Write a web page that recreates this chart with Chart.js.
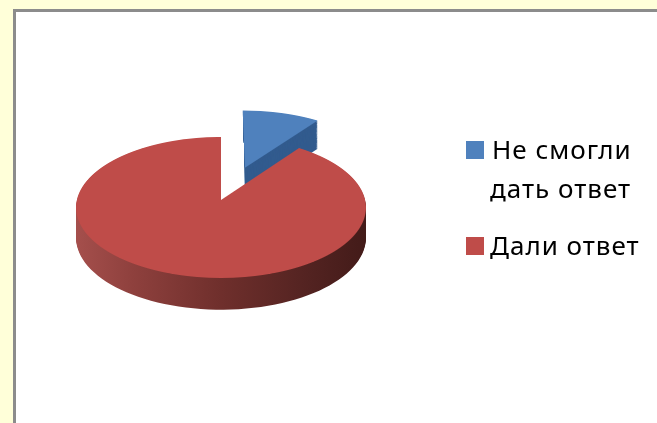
<!DOCTYPE html>
<html>
<head>
    <meta charset="utf-8">
    <style>
        html, body {
            width: 657px;
            height: 423px;
            margin: 0;
            overflow: hidden;
            background: #FFFFD9;
        }
        #panel {
            position: absolute;
            left: 13px;
            top: 9px;
            right: 0;
            bottom: 0;
            background: white;
            border-left: 3px solid #8C8C8C;
            border-top: 3px solid #8C8C8C;
        }
        #container {
            position: absolute;
            left: 0;
            top: 0;
            width: 657px;
            height: 423px;
        }
    </style>
    <script src="https://cdn.jsdelivr.net/npm/chart.js"></script>
</head>
<body>
    <div id="panel"></div>
    <div id="container"><canvas id="pieChart"></canvas></div>

    <script>
        const categories = [["Не смогли", "дать ответ"], ["Дали ответ"]];
        const seriesValues = [10, 90];
        const sliceColors = ['#4F81BD', '#BF4C49'];

        // perspective of the tilted pie, fitted to the picture
        const centerX = 221;
        const centerY = 200;
        const radius = 145;
        const scaleX = 0.994;
        const scaleY = 0.4807;
        const tilt = -0.106 / 145;
        const depth = 30;
        const explodeBy = [75, 0];
        const explodeTurn = 0.03;

        function perspective(v) {
            return 1 + tilt * v;
        }

        function project(x, y) {
            const v = y - centerY;
            const w = perspective(v);
            return {
                x: centerX + scaleX * (x - centerX) / w,
                y: centerY + scaleY * v / w,
                w: w
            };
        }

        function sliceOrigin(arc, i) {
            const mid = (arc.startAngle + arc.endAngle) / 2 + explodeTurn;
            return {
                x: arc.x + Math.cos(mid) * explodeBy[i],
                y: arc.y + Math.sin(mid) * explodeBy[i]
            };
        }

        function wallStyle(ctx, i) {
            if (i === 0) return '#325B8E';
            const g = ctx.createLinearGradient(76, 0, 366, 0);
            g.addColorStop(0, '#A54F4C');
            g.addColorStop(0.2, '#8E403D');
            g.addColorStop(0.5, '#6F2F2C');
            g.addColorStop(0.8, '#532321');
            g.addColorStop(1, '#431B19');
            return g;
        }

        function drawWall(ctx, arc, i) {
            const o = sliceOrigin(arc, i);
            const c = project(o.x, o.y);
            ctx.save();
            ctx.fillStyle = wallStyle(ctx, i);
            if (explodeBy[i] > 0) {
                // the back edge of the pulled out slice must not peek out on its left
                const s = project(o.x + Math.cos(arc.startAngle) * arc.outerRadius, o.y + Math.sin(arc.startAngle) * arc.outerRadius);
                ctx.beginPath();
                ctx.moveTo(s.x, s.y);
                ctx.lineTo(s.x + 200, s.y);
                ctx.lineTo(s.x + 200, c.y + 100);
                ctx.lineTo(c.x, c.y + 100);
                ctx.lineTo(c.x, c.y);
                ctx.closePath();
                ctx.clip();
            }
            for (let d = depth; d > 0; d--) {
                ctx.beginPath();
                ctx.moveTo(c.x, c.y + d / Math.sqrt(c.w));
                for (let s = 0; s <= 120; s++) {
                    const a = arc.startAngle + (arc.endAngle - arc.startAngle) * s / 120;
                    const p = project(o.x + Math.cos(a) * arc.outerRadius, o.y + Math.sin(a) * arc.outerRadius);
                    ctx.lineTo(p.x, p.y + d / Math.sqrt(p.w));
                }
                ctx.closePath();
                ctx.fill();
            }
            ctx.restore();
        }

        // canvas has no perspective transform, so the slice is drawn row by row
        function drawTop(chart, arc, i) {
            const ctx = chart.ctx;
            const o = sliceOrigin(arc, i);
            for (let row = 90; row < 300; row++) {
                const dy = row + 0.5 - centerY;
                const v = dy / (scaleY - tilt * dy);
                const w = perspective(v);
                ctx.save();
                ctx.beginPath();
                ctx.rect(0, row, chart.width, 1);
                ctx.clip();
                ctx.translate(centerX, row + 0.5);
                ctx.scale(scaleX / w, scaleY / (w * w));
                ctx.translate(-centerX, -(centerY + v));
                ctx.translate(o.x - arc.x, o.y - arc.y);
                arc.draw(ctx);
                ctx.restore();
            }
        }

        const pie3d = {
            id: 'pie3d',
            beforeDatasetsDraw(chart) {
                const arcs = chart.getDatasetMeta(0).data;
                arcs.forEach((arc, i) => drawWall(chart.ctx, arc, i));
                arcs.forEach((arc, i) => drawTop(chart, arc, i));
                return false;
            }
        };

        // legend has a wrapped label, so it is drawn by hand
        const pieLegend = {
            id: 'pieLegend',
            afterDraw(chart) {
                const ctx = chart.ctx;
                const lineGap = 39;
                const entryGap = 57;
                let baseline = 159;
                ctx.save();
                ctx.font = '26px "Noto Sans"';
                ctx.letterSpacing = '1px';
                ctx.textBaseline = 'alphabetic';
                categories.forEach((lines, i) => {
                    ctx.fillStyle = sliceColors[i];
                    ctx.fillRect(466, baseline - 18, 18, 18);
                    ctx.fillStyle = '#000000';
                    lines.forEach((line, n) => {
                        ctx.fillText(line, n === 0 && i === 0 ? 492 : 490, baseline + n * lineGap);
                    });
                    baseline += (lines.length - 1) * lineGap + entryGap;
                });
                ctx.restore();
            }
        };

        new Chart(document.getElementById("pieChart"), {
            type: 'pie',
            data: {
                labels: categories.map(lines => lines.join(' ')),
                datasets: [{
                    data: seriesValues,
                    backgroundColor: sliceColors,
                    borderWidth: 0
                }]
            },
            options: {
                responsive: true,
                maintainAspectRatio: false,
                animation: false,
                radius: radius,
                layout: {
                    padding: { right: 215, bottom: 23 }
                },
                plugins: {
                    legend: { display: false },
                    tooltip: { enabled: false }
                }
            },
            plugins: [pie3d, pieLegend]
        });
    </script>
</body>
</html>
